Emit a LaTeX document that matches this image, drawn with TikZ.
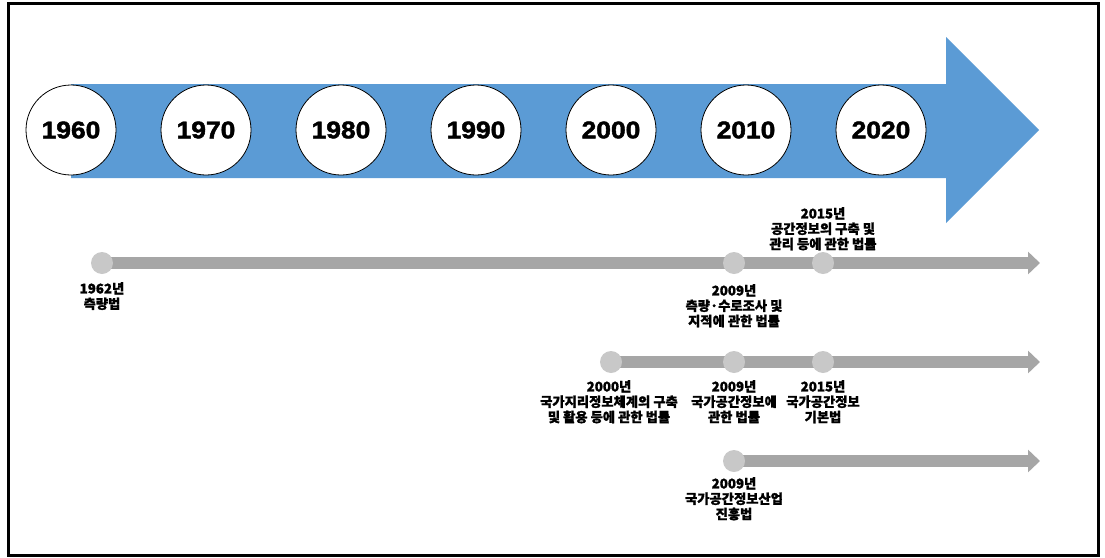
\documentclass[tikz,border=0pt]{standalone}
\usepackage{fontspec}
\usetikzlibrary{arrows.meta,backgrounds}
\newfontfamily\kr{Noto Sans CJK KR}[BoldFeatures={FakeBold=1.2}]
\newfontfamily\yearfont{Liberation Sans}[BoldFeatures={FakeStretch=1.1,FakeBold=2}]
\definecolor{bandblue}{HTML}{5B9BD5}
\definecolor{railgray}{HTML}{A6A6A6}
\definecolor{dotgray}{HTML}{C8C8C8}
\begin{document}
\begin{tikzpicture}[x=1pt,y=-1pt,
  year/.style={circle,draw=black,line width=0.8pt,fill=white,minimum size=90pt,
    inner sep=0pt,font=\yearfont\bfseries\fontsize{24}{24}\selectfont},
  dot/.style={circle,fill=dotgray,minimum size=22pt,inner sep=0pt},
  rail/.style={draw=railgray,line width=12pt},
  railend/.style={rail,-{Triangle[length=12pt,width=22pt]}},
  lbl/.style={font=\kr\bfseries\fontsize{13.3}{15.3}\selectfont,align=center,
    inner sep=0pt,anchor=north}
]
\useasboundingbox (0,0) rectangle (1105,557);
% outer frame
\draw[line width=3pt] (8,3) rectangle (1098,555);
% big blue time band
\fill[bandblue] (71,84) -- (946,84) -- (946,37) -- (1039,130) -- (946,223)
  -- (946,178) -- (71,178) -- cycle;
% decade circles
\node[year] (y1960) at (71,130)  {1960};
\node[year] (y1970) at (206,130) {1970};
\node[year] (y1980) at (341,130) {1980};
\node[year] (y1990) at (476,130) {1990};
\node[year] (y2000) at (611,130) {2000};
\node[year] (y2010) at (746,130) {2010};
\node[year] (y2020) at (881,130) {2020};

% law milestones
\node[dot] (d1962) at (102,263) {};
\node[dot] (a2009) at (734,263) {};
\node[dot] (a2015) at (823,263) {};
\coordinate (e1) at (1040,263);
\node[dot] (b2000) at (611,362) {};
\node[dot] (b2009) at (734,362) {};
\node[dot] (b2015) at (823,362) {};
\coordinate (e2) at (1040,362);
\node[dot] (c2009) at (734,461) {};
\coordinate (e3) at (1040,461);

\begin{scope}[on background layer]
  \draw[rail] (d1962.center) -- (a2009.center);
  \draw[rail] (a2009.center) -- (a2015.center);
  \draw[railend] (a2015.center) -- (e1);
  \draw[rail] (b2000.center) -- (b2009.center);
  \draw[rail] (b2009.center) -- (b2015.center);
  \draw[railend] (b2015.center) -- (e2);
  \draw[railend] (c2009.center) -- (e3);
\end{scope}

% milestone labels
\node[lbl] (t1962) at (102,282) {1962년\\측량법};
\node[lbl] (ta2009) at (734,284) {2009년\\측량·수로조사 및\\지적에 관한 법률};
\node[lbl] (ta2015) at (823,207) {2015년\\공간정보의 구축 및\\관리 등에 관한 법률};
\node[lbl] (tb2000) at (609,380) {2000년\\국가지리정보체계의 구축\\및 활용 등에 관한 법률};
\node[lbl] (tb2009) at (734,380) {2009년\\국가공간정보에\\관한 법률};
\node[lbl] (tb2015) at (823,380) {2015년\\국가공간정보\\기본법};
\node[lbl] (tc2009) at (734,477) {2009년\\국가공간정보산업\\진흥법};
\end{tikzpicture}
\end{document}
